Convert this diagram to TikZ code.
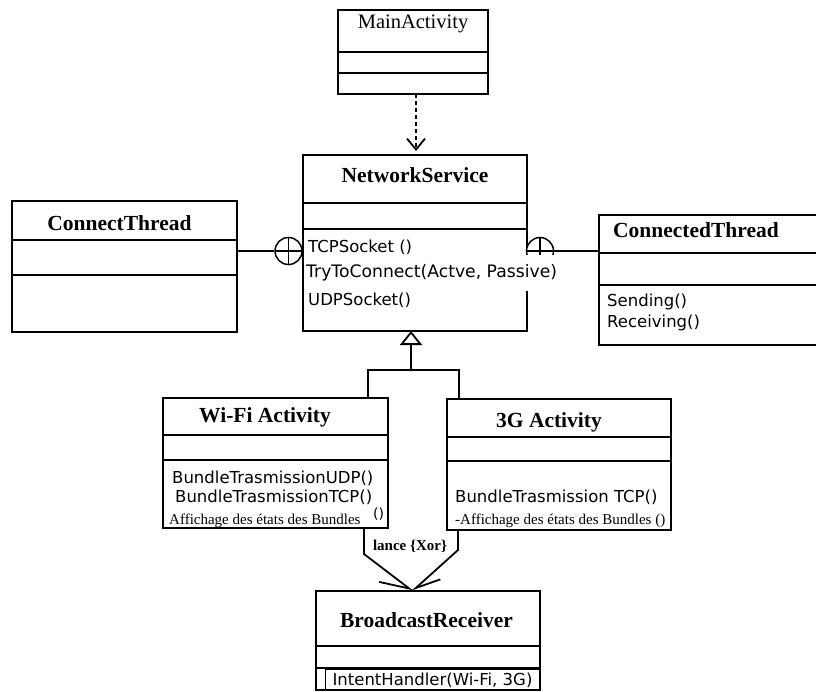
\documentclass[tikz,border=0pt]{standalone}
\usepackage{fontspec}
\setmainfont{Liberation Serif}
\newfontfamily\dv{DejaVu Sans}
\usetikzlibrary{arrows.meta}
\begin{document}
\begin{tikzpicture}[x=1pt,y=-1pt,
  umlbox/.style={draw, line width=1.8pt, rectangle, anchor=north west, inner sep=0pt, outer sep=0pt},
  divline/.style={line width=1.8pt},
  ttl/.style={anchor=base, inner sep=0pt, font=\fontsize{21.5}{24}\selectfont\bfseries},
  mttl/.style={anchor=base, inner sep=0pt, font=\fontsize{20.5}{23}\selectfont},
  meth/.style={anchor=base west, inner sep=0pt, font=\dv\fontsize{16.5}{19}\selectfont},
  smallser/.style={anchor=base west, inner sep=0pt, font=\fontsize{15}{17}\selectfont},
  conn/.style={line width=1.8pt},
  nest/.style={circle, draw, line width=1.5pt, minimum size=27pt, inner sep=0pt, fill=white,
    path picture={\draw[line width=1.5pt] (path picture bounding box.north) -- (path picture bounding box.south)
      (path picture bounding box.west) -- (path picture bounding box.east);}}
]
\useasboundingbox (0,0) rectangle (816,691);
\clip (0,0) rectangle (816,691);

% boxes
\node[umlbox, minimum width=150pt, minimum height=84pt] (main) at (338,10) {};
\node[umlbox, minimum width=224pt, minimum height=176pt] (ns) at (303,155) {};
\node[umlbox, minimum width=225pt, minimum height=131pt] (ct) at (12,201) {};
\node[umlbox, minimum width=231pt, minimum height=130pt] (cdt) at (599,215) {};
\node[umlbox, minimum width=225pt, minimum height=130pt] (wifi) at (163,398) {};
\node[umlbox, minimum width=224pt, minimum height=131pt] (g3) at (447,399) {};
\node[umlbox, minimum width=224pt, minimum height=99pt] (br) at (316,591) {};

% dividers
\draw[divline] (main.west |- 0,52) -- (main.east |- 0,52);
\draw[divline] (main.west |- 0,73) -- (main.east |- 0,73);
\draw[divline] (ns.west |- 0,203) -- (ns.east |- 0,203);
\draw[divline] (ns.west |- 0,229) -- (ns.east |- 0,229);
\draw[divline] (ct.west |- 0,240) -- (ct.east |- 0,240);
\draw[divline] (ct.west |- 0,275) -- (ct.east |- 0,275);
\draw[divline] (cdt.west |- 0,253) -- (cdt.east |- 0,253);
\draw[divline] (cdt.west |- 0,285) -- (cdt.east |- 0,285);
\draw[divline] (wifi.west |- 0,435) -- (wifi.east |- 0,435);
\draw[divline] (wifi.west |- 0,460) -- (wifi.east |- 0,460);
\draw[divline] (g3.west |- 0,437) -- (g3.east |- 0,437);
\draw[divline] (g3.west |- 0,461) -- (g3.east |- 0,461);
\draw[divline] (br.west |- 0,646) -- (br.east |- 0,646);
\draw[divline] (br.west |- 0,668) -- (br.east |- 0,668);

% titles
\node[mttl] (mainT) at (413,28.3) {MainActivity};
\node[ttl] (nsT) at (415,182.3) {NetworkService};
\node[ttl] (ctT) at (119.5,230) {ConnectThread};
\node[ttl] (cdtT) at (696,237) {ConnectedThread};
\node[ttl] (wifiT) at (265,422.5) {Wi-Fi Activity};
\node[ttl] (g3T) at (549,427.5) {3G Activity};
\node[ttl] (brT) at (426.5,627) {BroadcastReceiver};

% nesting circles
\node[nest] (lc) at (288.5,251) {};
\draw[conn] (ct.east |- lc) -- (lc);
\node[nest] (rc) at (540,251) {};
\draw[conn] (rc) -- (cdt.west |- rc);

% methods
\node[meth] (m1) at (308,252) {TCPSocket ()};
\node[anchor=west, fill=white, inner xsep=2pt, inner ysep=0pt, minimum height=36pt,
      font=\dv\fontsize{17.2}{19}\selectfont] (m2) at (304,273) {TryToConnect(Actve, Passive)};
\node[meth] (m3) at (308,305) {UDPSocket()};

\node[meth] (c1) at (607,306) {Sending()};
\node[meth] (c2) at (607,327) {Receiving()};

\node[meth] (w1) at (172,483) {BundleTrasmissionUDP()};
\node[meth] (w2) at (175,502) {BundleTrasmissionTCP()};
\node[smallser] (w3) at (169,524) {Affichage des états des Bundles};
\node[anchor=base west, inner sep=0pt, font=\dv\fontsize{14}{16}\selectfont] (w4) at (373,518) {()};

\node[meth] (g1) at (455,502) {BundleTrasmission TCP()};
\node[smallser] (g2) at (455,524) {-Affichage des états des Bundles ()};

\node[draw, line width=0.6pt, anchor=north west, minimum width=215pt, minimum height=21pt,
      inner sep=0pt, outer sep=0pt, font=\dv\fontsize{16.5}{19}\selectfont] (b1) at (325,669.5) {IntentHandler(Wi-Fi, 3G)};

% dependency
\draw[conn, dash pattern=on 4pt off 3pt, -{Straight Barb[length=11pt,width=18pt]}, shorten >=4pt]
  (main.south -| 416,0) -- (ns.north -| 416,0);

% generalization
\coordinate (gj) at (411,370);
\draw[conn] (wifi.north -| 368,0) |- (gj) -| (g3.north -| 459,0);
\draw[conn, -{Triangle[open, length=14pt, width=22pt]}] (gj) -- (ns.south -| gj);

% xor arrows
\coordinate (apex) at (br.north -| 412.5,0);
\draw[conn, -{Straight Barb[right, length=28pt, width=26pt]}] (wifi.south -| 364,0) -- ++(0,26) -- (apex);
\draw[conn, -{Straight Barb[left, length=24pt, width=20pt]}] (g3.south -| 458,0) -- ++(0,20) -- (apex);
\node[anchor=base, inner sep=0pt, font=\fontsize{15}{17}\selectfont\bfseries] (xor) at (410,550) {lance \{Xor\}};
\end{tikzpicture}
\end{document}
